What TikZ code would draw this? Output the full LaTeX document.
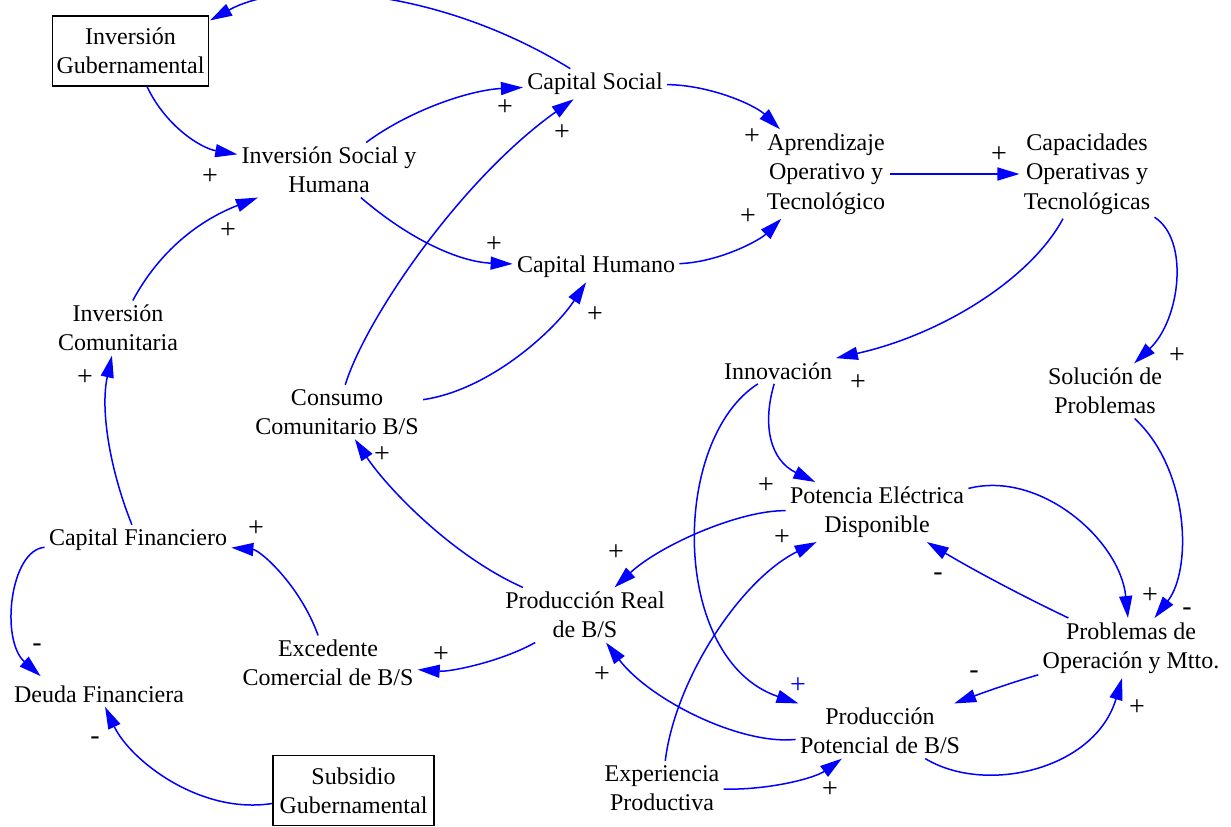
\documentclass[tikz,border=0pt]{standalone}
\usepackage{fontspec}
\setmainfont{Liberation Serif}
\usetikzlibrary{arrows.meta}
\begin{document}
\begin{tikzpicture}[x=0.5pt,y=0.5pt,
  cvar/.style={align=center,inner sep=2pt,font=\fontsize{12}{14.7}\selectfont},
  cbox/.style={cvar,draw,line width=0.6pt,minimum width=77.5pt,minimum height=35pt},
  clink/.style={draw=blue,line width=0.75pt,-{Triangle[length=11pt,width=6.5pt]}},
  csign/.style={inner sep=0pt,font=\fontsize{14}{16}\selectfont}]
\useasboundingbox (0,0) rectangle (1231,-826);
\clip (0,0) rectangle (1231,-826);

\node[cbox] (invgub) at (130.5,-51) {Inversión\\Gubernamental};
\node[cvar] (invsoc) at (329,-170) {Inversión Social y\\Humana};
\node[cvar] (capsoc) at (595,-84) {Capital Social};
\node[cvar] (aprend) at (826,-174) {Aprendizaje\\Operativo y\\Tecnológico};
\node[cvar] (capop) at (1087,-174) {Capacidades\\Operativas y\\Tecnológicas};
\node[cvar] (caphum) at (596,-267) {Capital Humano};
\node[cvar] (invcom) at (118,-328) {Inversión\\Comunitaria};
\node[cvar] (consumo) at (337,-412) {Consumo\\Comunitario B/S};
\node[cvar] (innov) at (778,-371) {Innovación};
\node[cvar] (solprob) at (1105,-391) {Solución de\\Problemas};
\node[cvar] (potelec) at (877,-512) {Potencia Eléctrica\\Disponible};
\node[cvar] (capfin) at (138,-540) {Capital Financiero};
\node[cvar] (prodreal) at (585,-615) {Producción Real\\de B/S};
\node[cvar] (probop) at (1131,-648) {Problemas de\\Operación y Mtto.};
\node[cvar] (excedente) at (328,-663) {Excedente\\Comercial de B/S};
\node[cvar] (deuda) at (99,-694) {Deuda Financiera};
\node[cvar] (prodpot) at (880,-731) {Producción\\Potencial de B/S};
\node[cbox,minimum width=80.5pt] (subsidio) at (353.5,-790.5) {Subsidio\\Gubernamental};
\node[cvar] (expprod) at (662,-788) {Experiencia\\Productiva};

\draw[clink] (capsoc) .. controls (440,12) and (289,23) .. ([shift={(1,-5)}]invgub.north east);
\draw[clink] (invgub) .. controls (165,-125) and (200,-148) .. (invsoc);
\draw[clink] (invcom) .. controls (160,-250) and (200,-220) .. (invsoc);
\draw[clink] (invsoc) .. controls (410,-110) and (470,-90) .. (capsoc);
\draw[clink] (invsoc) .. controls (410,-240) and (460,-262) .. (caphum);
\draw[clink] (consumo) .. controls (365,-320) and (460,-180) .. (capsoc);
\draw[clink] (consumo) .. controls (490,-390) and (555,-330) .. (caphum);
\draw[clink] (capsoc) .. controls (710,-85) and (755,-105) .. (aprend);
\draw[clink] (caphum) .. controls (720,-262) and (760,-240) .. (aprend);
\draw[clink] (aprend) -- (capop);
\draw[clink] (capop) .. controls (1030,-280) and (940,-335) .. (innov);
\draw[clink] (capop) .. controls (1190,-240) and (1180,-320) .. (solprob);
\draw[clink] (solprob) .. controls (1190,-470) and (1192,-570) .. (probop);
\draw[clink] (potelec) .. controls (1040,-470) and (1120,-540) .. (probop);
\draw[clink] (probop) .. controls (1010,-590) and (965,-565) .. (potelec);
\draw[clink] (innov) .. controls (762,-425) and (770,-460) .. (potelec);
\draw[clink] (innov) .. controls (670,-440) and (670,-660) .. (prodpot);
\draw[clink] (potelec) .. controls (740,-510) and (660,-545) .. (prodreal);
\draw[clink] (prodreal) .. controls (450,-555) and (385,-485) .. (consumo);
\draw[clink] (prodreal) .. controls (500,-662) and (450,-672) .. (excedente);
\draw[clink] (excedente) .. controls (300,-585) and (260,-550) .. (capfin);
\draw[clink] (capfin) .. controls (110,-470) and (100,-410) .. (invcom);
\draw[clink] (capfin) .. controls (10,-550) and (0,-640) .. ([shift={(31,5)}]deuda.north west);
\draw[clink] (subsidio) .. controls (200,-815) and (130,-760) .. (deuda);
\draw[clink] (prodpot) .. controls (740,-745) and (650,-700) .. (prodreal);
\draw[clink] (probop) .. controls (1010,-683) and (985,-692) .. (prodpot);
\draw[clink] (prodpot) .. controls (985,-795) and (1095,-770) .. (probop);
\draw[clink] (expprod) .. controls (675,-680) and (740,-580) .. (potelec);
\draw[clink] (expprod) .. controls (770,-790) and (815,-778) .. (prodpot);

\node[csign] (s1) at (210,-177) {+};
\node[csign] (s2) at (228,-231) {+};
\node[csign] (s3) at (505,-108) {+};
\node[csign] (s4) at (562,-133) {+};
\node[csign] (s5) at (494,-245) {+};
\node[csign] (s6) at (595,-315) {+};
\node[csign] (s7) at (752,-137) {+};
\node[csign] (s8) at (748,-217) {+};
\node[csign] (s9) at (999,-155) {+};
\node[csign] (s10) at (858,-383) {+};
\node[csign] (s11) at (1177,-356) {+};
\node[csign] (s12) at (85,-378) {+};
\node[csign] (s13) at (382,-455) {+};
\node[csign] (s14) at (766,-486) {+};
\node[csign] (s15) at (37,-648) {-};
\node[csign] (s16) at (256,-529) {+};
\node[csign] (s17) at (441,-655) {+};
\node[csign] (s18) at (95,-741) {-};
\node[csign] (s19) at (616,-553) {+};
\node[csign] (s20) at (782,-538) {+};
\node[csign] (s21) at (938,-577) {-};
\node[csign] (s22) at (1150,-596) {+};
\node[csign] (s23) at (1187,-612) {-};
\node[csign] (s24) at (974,-675) {-};
\node[csign,text=blue] (s25) at (798,-686) {+};
\node[csign] (s26) at (602,-675) {+};
\node[csign] (s27) at (1137,-708) {+};
\node[csign] (s28) at (830,-790) {+};
\end{tikzpicture}
\end{document}
